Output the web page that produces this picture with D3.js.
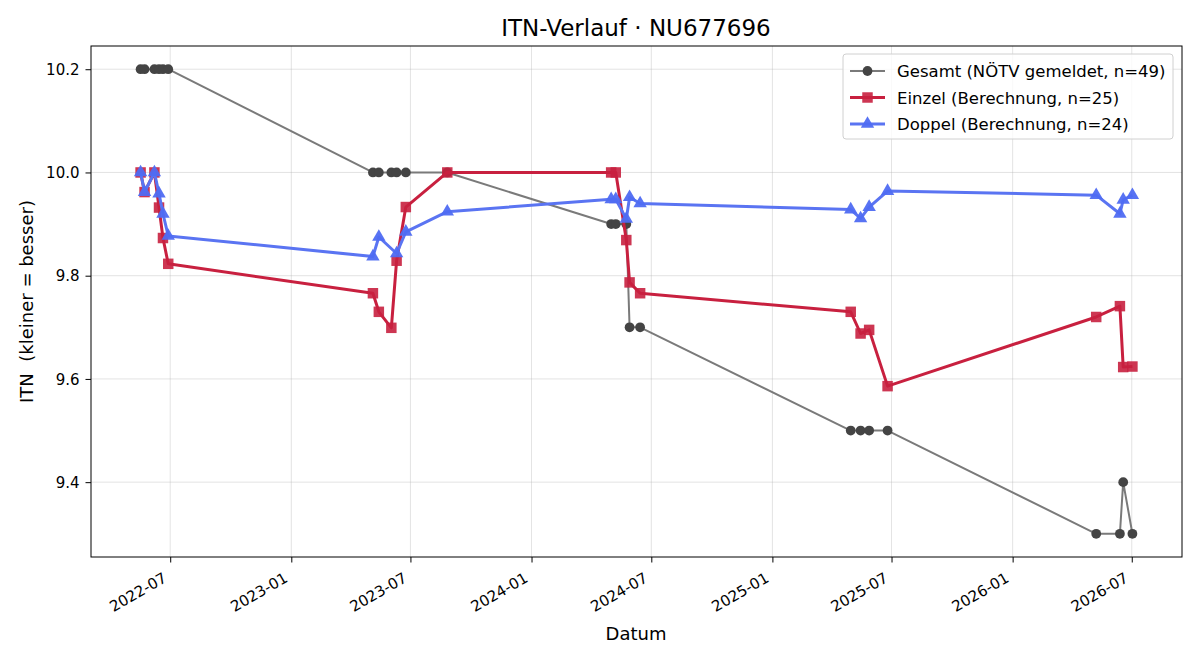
<html>
<head>
<title>ITN-Verlauf</title>
<script src="https://cdn.jsdelivr.net/npm/d3@7"></script>
<style>
  body { margin: 0; background: #fff; }
  svg, svg text { font-family: "DejaVu Sans", sans-serif; }
  .grid line { stroke: #b0b0b0; stroke-opacity: 0.35; stroke-width: 1px; }
</style>
</head>
<body>
<svg id="chart" width="1200" height="660"></svg>
<script>
// --- data ---
const gesamtDates = ["2022-05-17","2022-05-23","2022-06-07","2022-06-14","2022-06-20","2022-06-28",
  "2023-05-05","2023-05-14","2023-06-02","2023-06-10","2023-06-24","2023-08-26",
  "2024-05-01","2024-05-08","2024-05-24","2024-05-29","2024-06-14",
  "2025-04-30","2025-05-15","2025-05-28","2025-06-25",
  "2026-05-08","2026-06-13","2026-06-18","2026-07-02"];
const gesamtValues = [10.2,10.2,10.2,10.2,10.2,10.2,
  10.0,10.0,10.0,10.0,10.0,10.0,
  9.9,9.9,9.9,9.7,9.7,
  9.5,9.5,9.5,9.5,
  9.3,9.3,9.4,9.3];

const einzelDates = ["2022-05-17","2022-05-23","2022-06-07","2022-06-14","2022-06-20","2022-06-28",
  "2023-05-05","2023-05-14","2023-06-02","2023-06-10","2023-06-24","2023-08-26",
  "2024-05-01","2024-05-08","2024-05-24","2024-05-29","2024-06-14",
  "2025-04-30","2025-05-15","2025-05-28","2025-06-25",
  "2026-05-08","2026-06-13","2026-06-18","2026-07-02"];
const einzelValues = [10.0,9.962,10.0,9.932,9.873,9.823,
  9.766,9.730,9.699,9.829,9.933,10.0,
  10.0,10.0,9.869,9.787,9.766,
  9.730,9.688,9.695,9.586,
  9.720,9.741,9.623,9.624];

const doppelDates = ["2022-05-17","2022-05-23","2022-06-07","2022-06-14","2022-06-20","2022-06-28",
  "2023-05-05","2023-05-14","2023-06-10","2023-06-24","2023-08-26",
  "2024-05-01","2024-05-08","2024-05-24","2024-05-29","2024-06-14",
  "2025-04-30","2025-05-15","2025-05-28","2025-06-25",
  "2026-05-08","2026-06-13","2026-06-18","2026-07-02"];
const doppelValues = [10.0,9.962,10.0,9.959,9.920,9.877,
  9.837,9.875,9.843,9.885,9.924,
  9.948,9.948,9.910,9.952,9.940,
  9.928,9.911,9.933,9.964,
  9.956,9.920,9.947,9.956];

const yTicks = [9.4, 9.6, 9.8, 10.0, 10.2];
const xTickLabels = ["2022-07","2023-01","2023-07","2024-01","2024-07","2025-01","2025-07","2026-01","2026-07"];

const parse = d3.timeParse("%Y-%m-%d");
const toPoints = (dates, vals) => dates.map((d, i) => ({ date: parse(d), v: vals[i] }));

const series = [
  { name: "Gesamt (NÖTV gemeldet, n=49)", pts: toPoints(gesamtDates, gesamtValues),
    line: "#7a7a7a", mark: "#444444", width: 2, shape: d3.symbolCircle, size: 75, opacity: 1 },
  { name: "Einzel (Berechnung, n=25)", pts: toPoints(einzelDates, einzelValues),
    line: "#c8203f", mark: "#c8203f", width: 3, shape: d3.symbolSquare, size: 110, opacity: 0.9 },
  { name: "Doppel (Berechnung, n=24)", pts: toPoints(doppelDates, doppelValues),
    line: "#5a74f2", mark: "#4f6cf2", width: 3, shape: d3.symbolTriangle, size: 78, opacity: 0.95 }
];

const svg = d3.select("#chart");
const mLeft = 91, mRight = 1182, mTop = 46, mBottom = 557;

// matplotlib-like 5% margins
const all = series.flatMap(s => s.pts);
const xExt = d3.extent(all, d => +d.date);
const yExt = d3.extent(all, d => d.v);
const xPad = (xExt[1] - xExt[0]) * 0.05, yPad = (yExt[1] - yExt[0]) * 0.05;

const x = d3.scaleTime().domain([new Date(xExt[0] - xPad), new Date(xExt[1] + xPad)]).range([mLeft, mRight]);
const y = d3.scaleLinear().domain([yExt[0] - yPad, yExt[1] + yPad]).range([mBottom, mTop]);

const xTicks = xTickLabels.map(s => d3.timeParse("%Y-%m")(s));

// grid
const grid = svg.append("g").attr("class", "grid");
grid.selectAll(".gx").data(xTicks).join("line")
  .attr("x1", d => x(d)).attr("x2", d => x(d)).attr("y1", mTop).attr("y2", mBottom);
grid.selectAll(".gy").data(yTicks).join("line")
  .attr("x1", mLeft).attr("x2", mRight).attr("y1", d => y(d)).attr("y2", d => y(d));

// axes
const xAxis = svg.append("g").attr("transform", `translate(0,${mBottom})`)
  .call(d3.axisBottom(x).tickValues(xTicks).tickFormat(d3.timeFormat("%Y-%m")).tickSizeOuter(0).tickSize(5.5));
xAxis.attr("font-family", null).attr("font-size", 15);
xAxis.select(".domain").remove();
xAxis.selectAll("text")
  .attr("fill", "#000")
  .attr("text-anchor", "end")
  .attr("dy", 0).attr("y", 0)
  .attr("transform", "translate(-3,24) rotate(-30)");

const yAxis = svg.append("g").attr("transform", `translate(${mLeft},0)`)
  .call(d3.axisLeft(y).tickValues(yTicks).tickFormat(d3.format(".1f")).tickSizeOuter(0).tickSize(5.5));
yAxis.attr("font-family", null).attr("font-size", 15);
yAxis.select(".domain").remove();
yAxis.selectAll("text").attr("fill", "#000").attr("x", -11.5).attr("dy", "0.35em");

svg.append("rect").attr("x", mLeft).attr("y", mTop).attr("width", mRight - mLeft).attr("height", mBottom - mTop)
  .attr("fill", "none").attr("stroke", "#000").attr("stroke-width", 1);

// lines and markers
const lineGen = d3.line().x(d => x(d.date)).y(d => y(d.v));
const plot = svg.append("g");
series.forEach(s => {
  plot.append("path").datum(s.pts)
    .attr("d", lineGen).attr("fill", "none")
    .attr("stroke", s.line).attr("stroke-width", s.width).attr("stroke-linejoin", "round");
  plot.append("g").selectAll("path").data(s.pts).join("path")
    .attr("transform", d => `translate(${x(d.date)},${y(d.v)})`)
    .attr("d", d3.symbol().type(s.shape).size(s.size))
    .attr("fill", s.mark).attr("fill-opacity", s.opacity);
});

// labels
svg.append("text").attr("x", 636).attr("y", 36).attr("text-anchor", "middle")
  .attr("font-size", 23).text("ITN-Verlauf · NU677696");
svg.append("text").attr("x", 636).attr("y", 640).attr("text-anchor", "middle")
  .attr("font-size", 18).text("Datum");
svg.append("text").attr("transform", `translate(33,${(mTop + mBottom) / 2}) rotate(-90)`)
  .attr("text-anchor", "middle").attr("font-size", 18).style("white-space", "pre")
  .text("ITN  (kleiner = besser)");

// legend
const lg = svg.append("g").attr("transform", "translate(843,54)");
lg.append("rect").attr("width", 330).attr("height", 85).attr("rx", 3)
  .attr("fill", "#fff").attr("fill-opacity", 0.8).attr("stroke", "#d0d0d0");
series.forEach((s, i) => {
  const row = lg.append("g").attr("transform", `translate(0,${17 + i * 26.5})`);
  row.append("line").attr("x1", 7).attr("x2", 42).attr("stroke", s.line).attr("stroke-width", s.width);
  row.append("path").attr("transform", "translate(24.5,0)")
    .attr("d", d3.symbol().type(s.shape).size(s.size)).attr("fill", s.mark).attr("fill-opacity", s.opacity);
  row.append("text").attr("x", 54).attr("y", 6).attr("font-size", 16.5).text(s.name);
});
</script>
</body>
</html>
